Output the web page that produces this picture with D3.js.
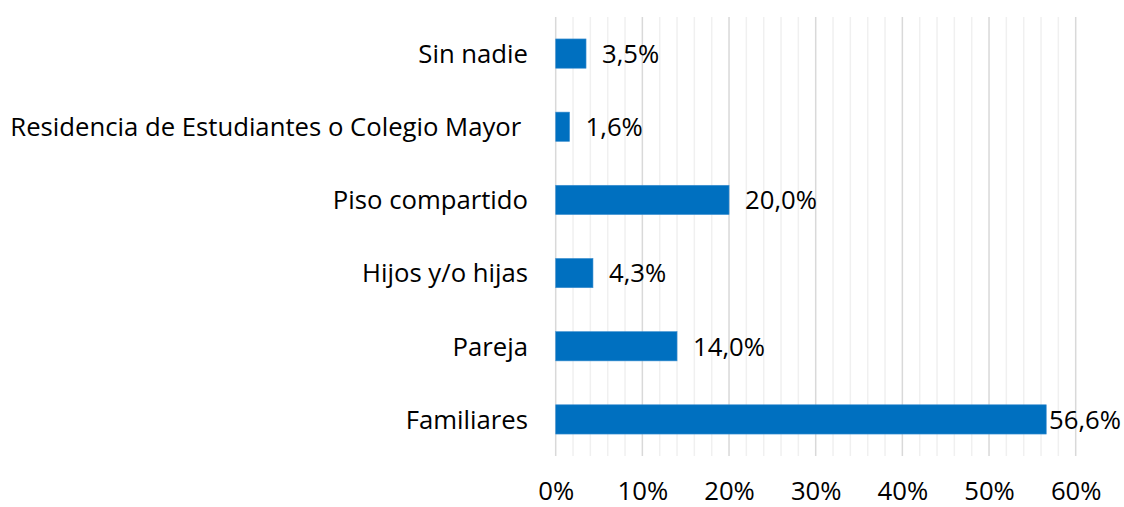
<!DOCTYPE html>
<html>
<head>
<meta charset="utf-8">
<script src="https://cdn.jsdelivr.net/npm/d3@7"></script>
<style>
  body { margin: 0; background: #fff; }
  text { font-family: "Open Sans", sans-serif; fill: #000; }
</style>
</head>
<body>
<div id="chart"></div>
<script>
// categories, top to bottom
const categories = ['Sin nadie', 'Residencia de Estudiantes o Colegio Mayor ', 'Piso compartido',
  'Hijos y/o hijas', 'Pareja', 'Familiares'];
const values = [3.5, 1.6, 20.0, 4.3, 14.0, 56.6];
const tickValues = [0, 10, 20, 30, 40, 50, 60];

const width = 1124;
const height = 507;
const fontFamily = '"Open Sans", sans-serif';
const fontSize = '25.7px';

const svg = d3.select('#chart')
  .append('svg')
  .attr('width', width)
  .attr('height', height);

const x = d3.scaleLinear().domain([0, 60]).range([555.7, 1075.7]);
const y = d3.scaleBand().domain(categories).range([17, 456]).paddingInner(0.6).paddingOuter(0.3);

// minor gridlines every 2%
svg.append('g')
  .selectAll('line')
  .data(d3.range(0, 61, 2).filter(d => d % 10 !== 0))
  .enter().append('line')
  .attr('x1', d => x(d)).attr('x2', d => x(d))
  .attr('y1', 17).attr('y2', 456)
  .style('stroke', '#f0f0f0')
  .style('stroke-width', 1.5);

// major gridlines
svg.append('g')
  .selectAll('line')
  .data(tickValues)
  .enter().append('line')
  .attr('x1', d => x(d)).attr('x2', d => x(d))
  .attr('y1', 17).attr('y2', 456)
  .style('stroke', '#d9d9d9')
  .style('stroke-width', 1.5);

// bars
svg.append('g')
  .selectAll('rect')
  .data(values)
  .enter().append('rect')
  .attr('x', x(0))
  .attr('y', (d, i) => y(categories[i]))
  .attr('width', d => x(d) - x(0))
  .attr('height', y.bandwidth())
  .style('fill', '#0070c0')
  .style('stroke', '#3d8fd0')
  .style('stroke-width', 0.6);

// value labels
svg.append('g')
  .selectAll('text')
  .data(values)
  .enter().append('text')
  .attr('x', d => x(d) + 16)
  .attr('y', (d, i) => y(categories[i]) + y.bandwidth() / 2)
  .attr('dy', '0.36em')
  .style('font-size', fontSize)
  .text(d => d.toFixed(1).replace('.', ',') + '%')
  .each(function () {
    // keep labels inside the chart, as Excel does
    const w = this.getComputedTextLength();
    const x0 = +this.getAttribute('x');
    if (x0 + w > width - 3) this.setAttribute('x', width - 3 - w);
  });

// category labels
svg.append('g')
  .selectAll('text')
  .data(categories)
  .enter().append('text')
  .attr('x', 528)
  .attr('y', d => y(d) + y.bandwidth() / 2)
  .attr('dy', '0.36em')
  .attr('text-anchor', 'end')
  .style('font-size', fontSize)
  .style('white-space', 'pre')
  .text(d => d);

// x axis labels
const xAxis = d3.axisBottom(x).tickValues(tickValues).tickFormat(d => d + '%').tickSize(0).tickPadding(0);
const gx = svg.append('g').attr('transform', 'translate(0,482)').call(xAxis);
gx.select('.domain').remove();
gx.selectAll('text')
  .style('font-family', fontFamily)
  .style('font-size', fontSize)
  .style('fill', '#000');
</script>
</body>
</html>
